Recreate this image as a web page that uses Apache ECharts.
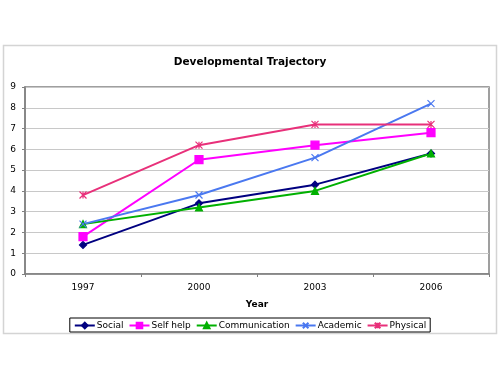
<!DOCTYPE html>
<html>
<head>
<meta charset="utf-8">
<script src="https://cdn.jsdelivr.net/npm/echarts@6/dist/echarts.min.js"></script>
<style>
  html, body { margin: 0; padding: 0; background: #fff; }
  #chart { width: 500px; height: 376px; }
</style>
</head>
<body>
<div id="chart"></div>
<script>
// categories and values
var years = ['1997', '2000', '2003', '2006'];
var social = [1.4, 3.4, 4.3, 5.8];
var selfHelp = [1.8, 5.5, 6.2, 6.8];
var communication = [2.4, 3.2, 4.0, 5.8];
var academic = [2.4, 3.8, 5.6, 8.2];
var physical = [3.8, 6.2, 7.2, 7.2];

var font = 'DejaVu Sans, Verdana, sans-serif';

function mk(name, data, color, symbol, size) {
    return {
        name: name,
        type: 'line',
        data: data,
        symbol: symbol,
        symbolSize: size,
        showAllSymbol: true,
        lineStyle: { color: color, width: 2 },
        itemStyle: { color: color, borderColor: color, borderWidth: 1.2 },
        emphasis: { disabled: true }
    };
}

var myChart = echarts.init(document.getElementById('chart'));

var option = {
    backgroundColor: '#fff',
    animation: false,
    title: {
        text: 'Developmental Trajectory',
        left: 'center',
        top: 52,
        textStyle: { fontFamily: font, fontSize: 10.5, fontWeight: 'bold', color: '#000' }
    },
    graphic: [{
        type: 'rect',
        shape: { x: 3.5, y: 45.5, width: 493, height: 288 },
        style: { fill: 'none', stroke: '#d4d4d4', lineWidth: 1.5 },
        z: -1
    }],
    grid: {
        left: 25, right: 11, top: 87, bottom: 102,
        show: true, borderColor: '#808080', borderWidth: 1.5
    },
    legend: {
        bottom: 44,
        left: 'center',
        itemGap: 5,
        itemWidth: 20,
        itemHeight: 7,
        padding: [3, 4, 2, 4],
        borderColor: '#000',
        borderWidth: 1,
        textStyle: { fontFamily: font, fontSize: 9, color: '#000', padding: [0, 0, 0, -3] },
        data: ['Social', 'Self help', 'Communication', 'Academic', 'Physical']
    },
    xAxis: {
        type: 'category',
        data: years,
        boundaryGap: true,
        name: 'Year',
        nameLocation: 'middle',
        nameGap: 26,
        nameTextStyle: { fontFamily: font, fontSize: 9, fontWeight: 'bold', color: '#000' },
        axisLine: { lineStyle: { color: '#808080', width: 1.5 } },
        axisTick: { show: true, alignWithLabel: false, length: 3, lineStyle: { color: '#808080' } },
        axisLabel: { fontFamily: font, fontSize: 9, color: '#000', margin: 9 }
    },
    yAxis: {
        type: 'value',
        min: 0,
        max: 9,
        interval: 1,
        axisLine: { show: true, lineStyle: { color: '#808080', width: 1.5 } },
        axisTick: { show: true, length: 3, lineStyle: { color: '#808080' } },
        axisLabel: { fontFamily: font, fontSize: 9, color: '#000', margin: 9 },
        splitLine: { lineStyle: { color: '#c8c8c8', width: 1 } }
    },
    series: [
        mk('Social', social, '#000080', 'diamond', 7),
        mk('Self help', selfHelp, '#ff00ff', 'rect', 8),
        mk('Communication', communication, '#00b000', 'triangle', 7),
        mk('Academic', academic, '#4a78f0', 'path://M0,0L10,10M10,0L0,10', 7),
        mk('Physical', physical, '#e8307a', 'path://M0,0L10,10M10,0L0,10M5,0L5,10', 7)
    ]
};

myChart.setOption(option);
</script>
</body>
</html>
